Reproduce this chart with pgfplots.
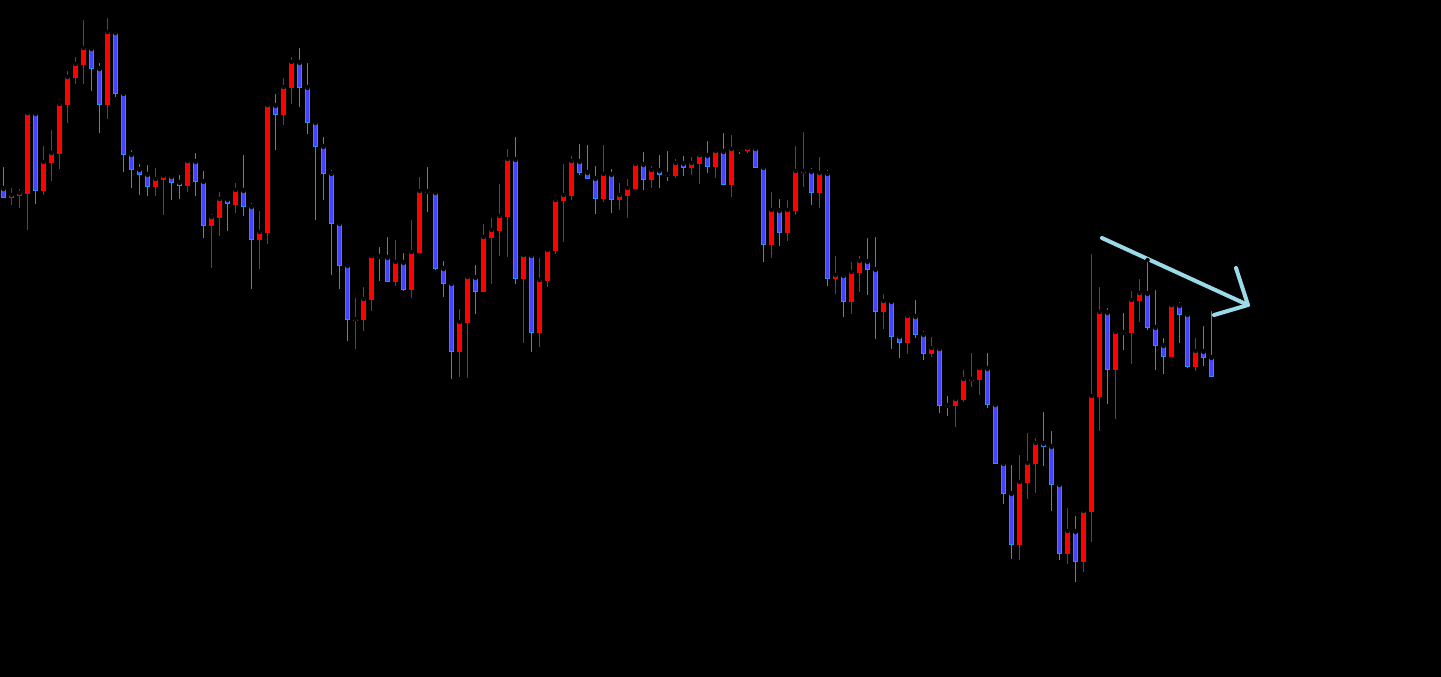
\documentclass[border=0pt]{standalone}
\usepackage{pgfplots}
\usepackage{pgfplotstable}
\pgfplotsset{compat=1.18}
\definecolor{upred}{RGB}{255,0,0}
\definecolor{dnfill}{RGB}{68,68,255}
\definecolor{dnedge}{RGB}{30,144,255}
\definecolor{arrowc}{RGB}{155,218,232}
% columns: index, high, body top, body bottom, low (screen rows; larger = lower price)
\pgfplotstableread{
i h t b l
1 186 195 198 205
2 187 193 196 208
3 113 113 194 230
5 144 162 191 195
6 128 153 163 181
7 100 104 154 169
8 69 77 105 123
9 55 64 78 84
10 18 48 65 84
13 16 32 105 119
19 166 179 187 196
20 175 176 180 215
23 161 161 186 192
26 212 217 226 268
27 190 199 218 236
29 181 190 205 213
32 209 232 240 269
33 105 105 233 244
35 76 87 115 125
36 55 62 88 104
44 296 319 321 349
45 285 299 320 331
46 256 256 300 311
49 238 262 282 286
51 218 252 290 298
52 175 191 253 253
57 307 322 352 377
58 276 277 323 378
60 222 237 292 292
61 216 230 238 284
62 182 216 231 256
63 147 159 217 257
65 255 255 279 343
67 256 280 333 347
68 249 250 281 287
69 198 200 251 254
70 162 195 201 242
71 154 161 196 200
75 143 174 199 202
77 181 195 200 210
78 177 188 196 218
79 163 164 189 189
81 164 170 180 188
84 157 163 176 178
86 155 163 168 175
87 155 155 164 184
89 150 151 167 178
91 133 149 185 197
93 148 148 151 153
96 190 210 245 258
98 198 210 233 241
99 144 171 211 215
100 130 171 173 187
102 155 173 193 208
104 254 275 279 294
106 260 272 302 314
107 254 261 273 292
110 292 301 312 329
113 314 316 343 354
116 335 348 354 357
119 397 399 406 427
120 368 379 400 402
121 351 379 381 387
122 368 368 380 395
127 453 482 545 560
128 431 463 483 499
129 436 443 464 493
133 506 531 554 564
135 507 511 562 572
136 252 396 512 542
137 285 312 397 431
139 328 332 370 419
141 289 300 333 364
142 277 293 301 322
146 305 305 357 357
149 336 351 367 371
}\redtab
\pgfplotstableread{
i h t b l
0 165 188 198 198
4 110 113 191 204
11 46 48 69 91
12 61 68 105 133
14 32 32 94 97
15 90 93 155 172
16 148 154 170 188
17 162 169 175 195
18 163 174 187 196
21 174 176 183 200
22 173 182 186 199
24 151 161 182 196
25 169 181 226 238
28 198 199 204 231
30 153 190 207 216
31 201 206 240 289
34 92 105 115 150
37 46 62 88 107
38 61 87 123 134
39 121 122 147 220
40 135 146 174 200
41 168 173 224 275
42 219 223 266 289
43 265 265 320 341
47 245 256 258 281
48 235 257 282 282
50 251 262 290 291
53 165 191 193 212
54 191 192 269 270
55 259 268 284 297
56 281 283 352 379
59 263 277 292 314
64 135 159 279 284
66 253 255 333 352
72 142 161 173 175
73 143 172 179 179
74 164 178 199 214
76 167 174 200 213
80 150 164 180 190
82 153 170 175 188
83 149 174 176 181
85 154 163 168 176
88 139 155 167 173
90 131 151 185 185
92 147 149 151 154
94 147 148 168 168
95 165 167 245 262
97 197 210 233 246
101 166 171 193 205
103 168 173 279 286
105 275 275 302 317
108 236 261 270 295
109 235 269 312 339
111 298 301 337 349
112 332 336 343 358
114 298 316 335 338
115 329 334 354 360
117 344 348 406 413
118 394 405 407 416
123 351 368 405 408
124 404 404 464 464
125 459 463 494 504
126 463 493 545 559
130 410 443 447 466
131 429 446 485 511
132 483 484 554 560
134 514 531 562 582
138 306 312 370 404
140 311 332 334 350
143 260 293 328 330
144 288 327 346 370
145 336 345 357 374
147 300 305 315 343
148 314 314 367 368
150 324 351 358 366
151 309 357 377 377
}\bluetab
\begin{document}
\begin{tikzpicture}
\fill[black] (0,0) rectangle (1441pt,677pt);
\begin{axis}[at={(0,0)}, anchor=south west, scale only axis,
  width=1441pt, height=677pt, xmin=0, xmax=1441, ymin=0, ymax=677,
  y dir=reverse, hide axis, clip=true]
% wicks
\addplot[only marks, mark=none, error bars/.cd, y dir=plus, y explicit, error mark=none,
  error bar style={draw=upred, line width=1pt}]
  table[x expr=3.5+8*\thisrow{i}, y=h, y error plus expr=\thisrow{l}-\thisrow{h}] {\redtab};
\addplot[only marks, mark=none, error bars/.cd, y dir=plus, y explicit, error mark=none,
  error bar style={draw=dnedge, line width=1pt}]
  table[x expr=3.5+8*\thisrow{i}, y=h, y error plus expr=\thisrow{l}-\thisrow{h}] {\bluetab};
% red bodies
\addplot[only marks, mark=none, error bars/.cd, y dir=plus, y explicit, error mark=none,
  error bar style={draw=upred, line width=5pt}]
  table[x expr=3.5+8*\thisrow{i}, y=t, y error plus expr=\thisrow{b}-\thisrow{t}] {\redtab};
% blue bodies: edge, then fill
\addplot[only marks, mark=none, error bars/.cd, y dir=plus, y explicit, error mark=none,
  error bar style={draw=dnedge, line width=5pt}]
  table[x expr=3.5+8*\thisrow{i}, y=t, y error plus expr=\thisrow{b}-\thisrow{t}] {\bluetab};
\addplot[only marks, mark=none, error bars/.cd, y dir=plus, y explicit, error mark=none,
  error bar style={draw=dnfill, line width=3pt}]
  table[x expr=3.5+8*\thisrow{i}, y expr=\thisrow{t}+1, y error plus expr={max(\thisrow{b}-\thisrow{t}-2,0)}] {\bluetab};
% trend arrow
\addplot[arrowc, line width=4pt, line cap=round, line join=round] coordinates {(1102,238) (1248,305)};
\addplot[arrowc, line width=4pt, line cap=round, line join=round] coordinates {(1236,268) (1248,305) (1214,315)};
\end{axis}
\end{tikzpicture}
\end{document}
